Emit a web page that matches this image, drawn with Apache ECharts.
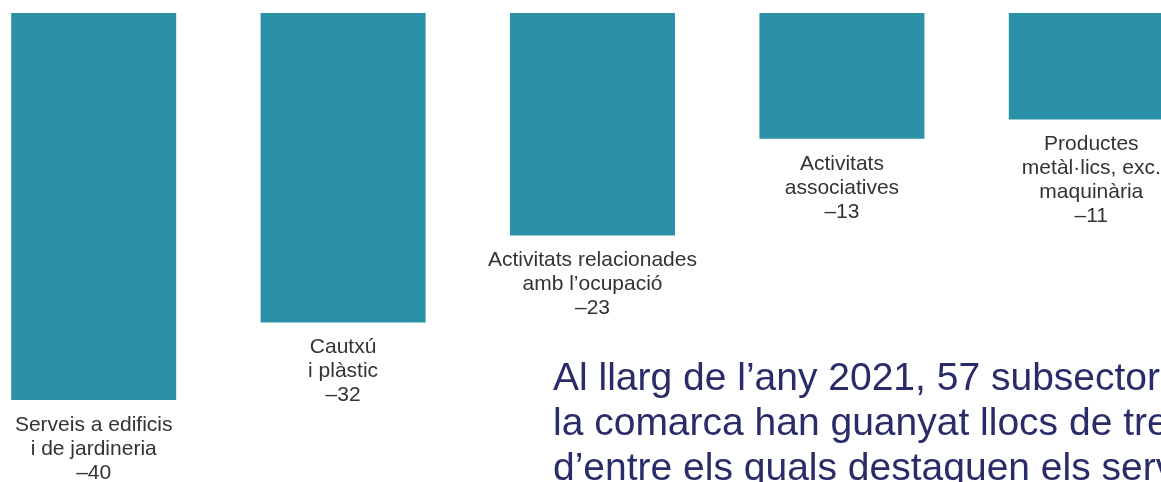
<!DOCTYPE html>
<html>
<head>
<meta charset="utf-8">
<script src="https://cdn.jsdelivr.net/npm/echarts@6/dist/echarts.min.js"></script>
<style>
  html, body { margin: 0; padding: 0; background: #fff; }
  #chart { width: 1161px; height: 482px; }
</style>
</head>
<body>
<div id="chart"></div>
<script>
// subsectors with the largest job losses
const categories = [
  'Serveis a edificis\ni de jardineria',
  'Cautxú\ni plàstic',
  'Activitats relacionades\namb l’ocupació',
  'Activitats\nassociatives',
  'Productes\nmetàl·lics, exc.\nmaquinària'
]
const values = [-40, -32, -23, -13, -11]

const noteLines = [
  'Al llarg de l’any 2021, 57 subsectors de',
  'la comarca han guanyat llocs de treball,',
  'd’entre els quals destaquen els serveis'
]

let myChart = echarts.init(document.getElementById('chart'))

let chartOption = {
  backgroundColor: '#fff',
  animation: false,
  grid: {
    left: -31,
    width: 1247,
    top: 13,
    height: 387,
    outerBoundsMode: 'none'
  },
  xAxis: {
    type: 'category',
    data: categories,
    position: 'top',
    axisLine: { show: false },
    axisTick: { show: false },
    axisLabel: { show: false }
  },
  yAxis: {
    type: 'value',
    min: -40,
    max: 0,
    show: false,
    splitLine: { show: false }
  },
  series: [
    {
      type: 'bar',
      data: values,
      barWidth: 165,
      itemStyle: { color: '#2B91A6' },
      label: {
        show: true,
        position: 'bottom',
        distance: 13,
        color: '#333333',
        fontFamily: 'Liberation Sans, Arial, sans-serif',
        fontSize: 21,
        lineHeight: 24,
        align: 'center',
        formatter: p => p.name + '\n–' + Math.abs(p.value)
      }
    }
  ],
  graphic: [
    {
      type: 'text',
      left: 553,
      top: 357,
      style: {
        text: noteLines.join('\n'),
        fill: '#2A2C69',
        font: '39px "Liberation Sans", Arial, sans-serif',
        lineHeight: 45
      }
    }
  ]
}

myChart.setOption(chartOption)
</script>
</body>
</html>
